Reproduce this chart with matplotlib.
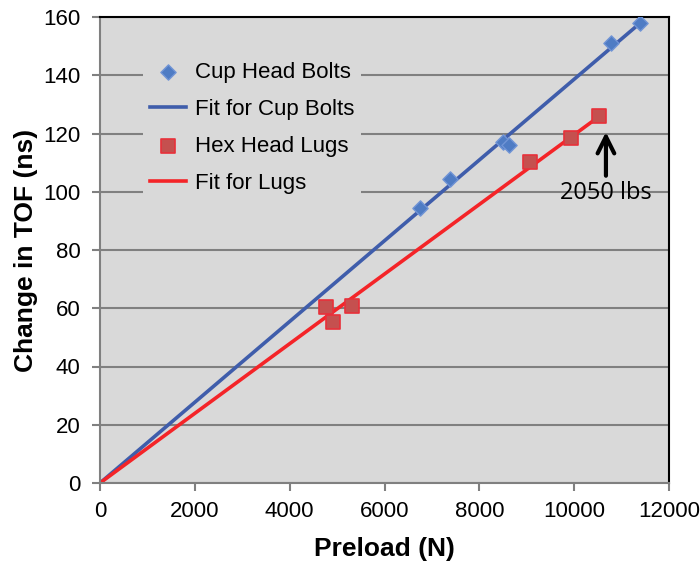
import numpy as np
import matplotlib
matplotlib.use('Agg')
import matplotlib.pyplot as plt

# Dados
cup_preload = [6750, 7380, 8500, 8630, 10780, 11390]
cup_tof = [94.4, 104.4, 117.1, 116.0, 151.0, 157.9]
lug_preload = [4770, 4910, 5310, 9070, 9930, 10520]
lug_tof = [60.4, 55.3, 60.8, 110.2, 118.4, 126.0]

x_ticks = [0, 2000, 4000, 6000, 8000, 10000, 12000]
y_ticks = [0, 20, 40, 60, 80, 100, 120, 140, 160]

plt.rcParams['font.family'] = ['Liberation Sans', 'DejaVu Sans']

bg = '#D9D9D9'
blue_line = '#3F5DAB'
red_line = '#F42428'

def fit_origin(x, y):
    """Ajuste linear passando pela origem"""
    x = np.asarray(x, float)
    y = np.asarray(y, float)
    return (x * y).sum() / (x * x).sum()

fig = plt.figure(figsize=(7.0, 5.63), dpi=100)
ax = fig.add_axes([100/700, 80/563, 569/700, 466/563])
ax.set_facecolor(bg)

k_cup = fit_origin(cup_preload, cup_tof)
k_lug = fit_origin(lug_preload, lug_tof)
xc = np.array([0, max(cup_preload)])
xl = np.array([0, max(lug_preload)])

ax.grid(axis='y', color='#808080', linewidth=1.5, zorder=0)
ax.set_axisbelow(True)

l1, = ax.plot(xc, k_cup * xc, color=blue_line, lw=2.6, zorder=2)
l2, = ax.plot(xl, k_lug * xl, color=red_line, lw=2.6, zorder=2)
s1 = ax.scatter(cup_preload, cup_tof, marker='D', s=60, color='#4F7CC4',
                edgecolors='#7094D6', linewidths=1.0, zorder=3)
s2 = ax.scatter(lug_preload, lug_tof, marker='s', s=100, color='#C5504F',
                edgecolors='#E8303A', linewidths=1.2, zorder=3)

ax.set_xlim(0, 12000)
ax.set_ylim(0, 160)
ax.set_xticks(x_ticks)
ax.set_yticks(y_ticks)
ax.tick_params(axis='both', labelsize=16, color='#808080', length=6, width=1.5)
ax.tick_params(axis='x', pad=7)
ax.tick_params(axis='y', pad=8)

for side in ['left', 'bottom']:
    ax.spines[side].set_color('#808080')
    ax.spines[side].set_linewidth(1.5)
for side in ['top', 'right']:
    ax.spines[side].set_color('black')
    ax.spines[side].set_linewidth(1.5)

ax.set_xlabel('Preload (N)', fontsize=19, fontweight='bold', labelpad=11)
ax.set_ylabel('Change in TOF (ns)', fontsize=19, fontweight='bold', labelpad=4)

leg = ax.legend([s1, l1, s2, l2],
                ['Cup Head Bolts', 'Fit for Cup Bolts', 'Hex Head Lugs', 'Fit for Lugs'],
                loc='upper left', bbox_to_anchor=(0.056, 0.942), fontsize=16,
                frameon=True, facecolor=bg, edgecolor='none', framealpha=1,
                handlelength=1.65, handletextpad=0.4, labelspacing=0.72,
                borderpad=0.3, fancybox=False)

# Anotação da última carga
x_arrow = lug_preload[-1] + 150
ax.annotate('', xy=(x_arrow, 120.5), xytext=(x_arrow, 105.5),
            arrowprops=dict(arrowstyle='->', color='black', lw=3,
                            mutation_scale=30, shrinkA=0, shrinkB=0))
ax.text(x_arrow, 99.6, '2050 lbs', ha='center', va='center',
        fontsize=17, family=['Open Sans', 'DejaVu Sans'])

plt.savefig('out.png', dpi=100)
plt.close()
